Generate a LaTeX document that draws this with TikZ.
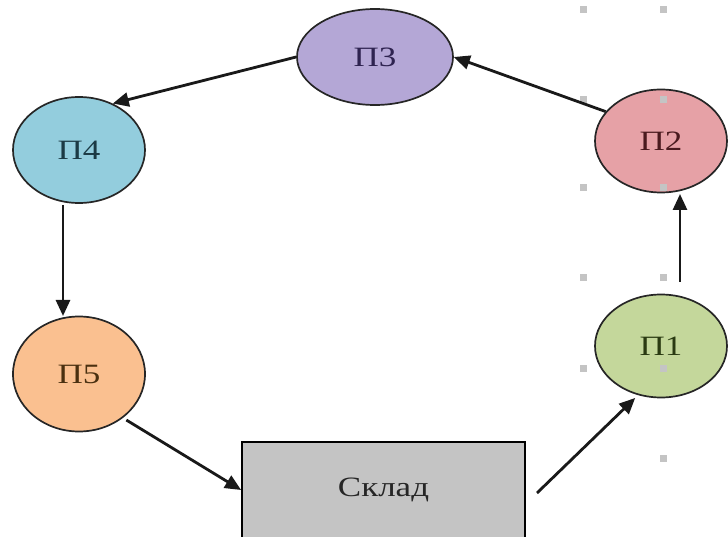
\documentclass[tikz,border=0pt]{standalone}
\usepackage{fontspec}
\setmainfont[FakeStretch=1.25]{Liberation Serif}
\usetikzlibrary{arrows.meta,shapes.geometric}
\definecolor{cthree}{HTML}{B4A7D6}
\definecolor{cfour}{HTML}{93CDDD}
\definecolor{ctwo}{HTML}{E6A1A6}
\definecolor{cone}{HTML}{C4D79B}
\definecolor{cfive}{HTML}{FAC090}
\definecolor{cstore}{HTML}{C4C4C4}
\definecolor{chandle}{HTML}{C4C4C4}
\definecolor{tthree}{HTML}{2E2350}
\definecolor{tfour}{HTML}{1C3A44}
\definecolor{ttwo}{HTML}{4A1A1E}
\definecolor{tone}{HTML}{2A3A12}
\definecolor{tfive}{HTML}{4A3010}
\tikzset{
  proc/.style={ellipse, draw=black!85, line width=1.7pt, inner sep=0pt, font=\fontsize{28}{32}\selectfont},
  flow/.style={draw=black!90, line width=2.8pt, -{Triangle[length=16pt,width=14pt]}},
  handle/.style={fill=chandle, draw=none, minimum size=7pt, inner sep=0pt}
}
\begin{document}
\begin{tikzpicture}[x=1pt,y=-1pt]
\useasboundingbox (0,0) rectangle (728,537);
\node[proc, fill=cthree, minimum width=156pt, minimum height=96pt, text=tthree] (p3) at (375,57) {П3};
\node[proc, fill=cfour, minimum width=132pt, minimum height=106pt, text=tfour] (p4) at (79,150) {П4};
\node[proc, fill=ctwo, minimum width=132pt, minimum height=103pt, text=ttwo] (p2) at (661,141) {П2};
\node[proc, fill=cone, minimum width=132pt, minimum height=103pt, text=tone] (p1) at (661,346) {П1};
\node[proc, fill=cfive, minimum width=132pt, minimum height=115pt, text=tfive] (p5) at (79,374) {П5};
\node[draw=black, line width=1.8pt, fill=cstore, minimum width=283pt, minimum height=96pt, font=\fontsize{28}{32}\selectfont, text=black!85] (sk) at (383.5,490) {Склад};
% selection handles
\foreach \hx/\hy [count=\i] in {583/10,663/10,583/100,663/100,583/188,663/188,583/278,663/278,583/368,663/368,663/458}
  \node[handle] (h\i) at (\hx,\hy) {};
% connectors
\coordinate (a1) at (680,282);
\coordinate (a2) at (680,194);
\draw[flow] (a1) -- (a2);
\draw[flow] (p2.152) -- (p3.east);
\draw[flow] (p3.west) -- (p4.54);
\coordinate (b1) at (63,205);
\coordinate (b2) at (63,316);
\draw[flow] (b1) -- (b2);
\draw[flow, shorten <=4pt] (p5.-45) -- (sk.west);
\coordinate (c1) at (537,493);
\draw[flow, shorten >=4pt] (c1) -- (p1.-115);
\end{tikzpicture}
\end{document}
